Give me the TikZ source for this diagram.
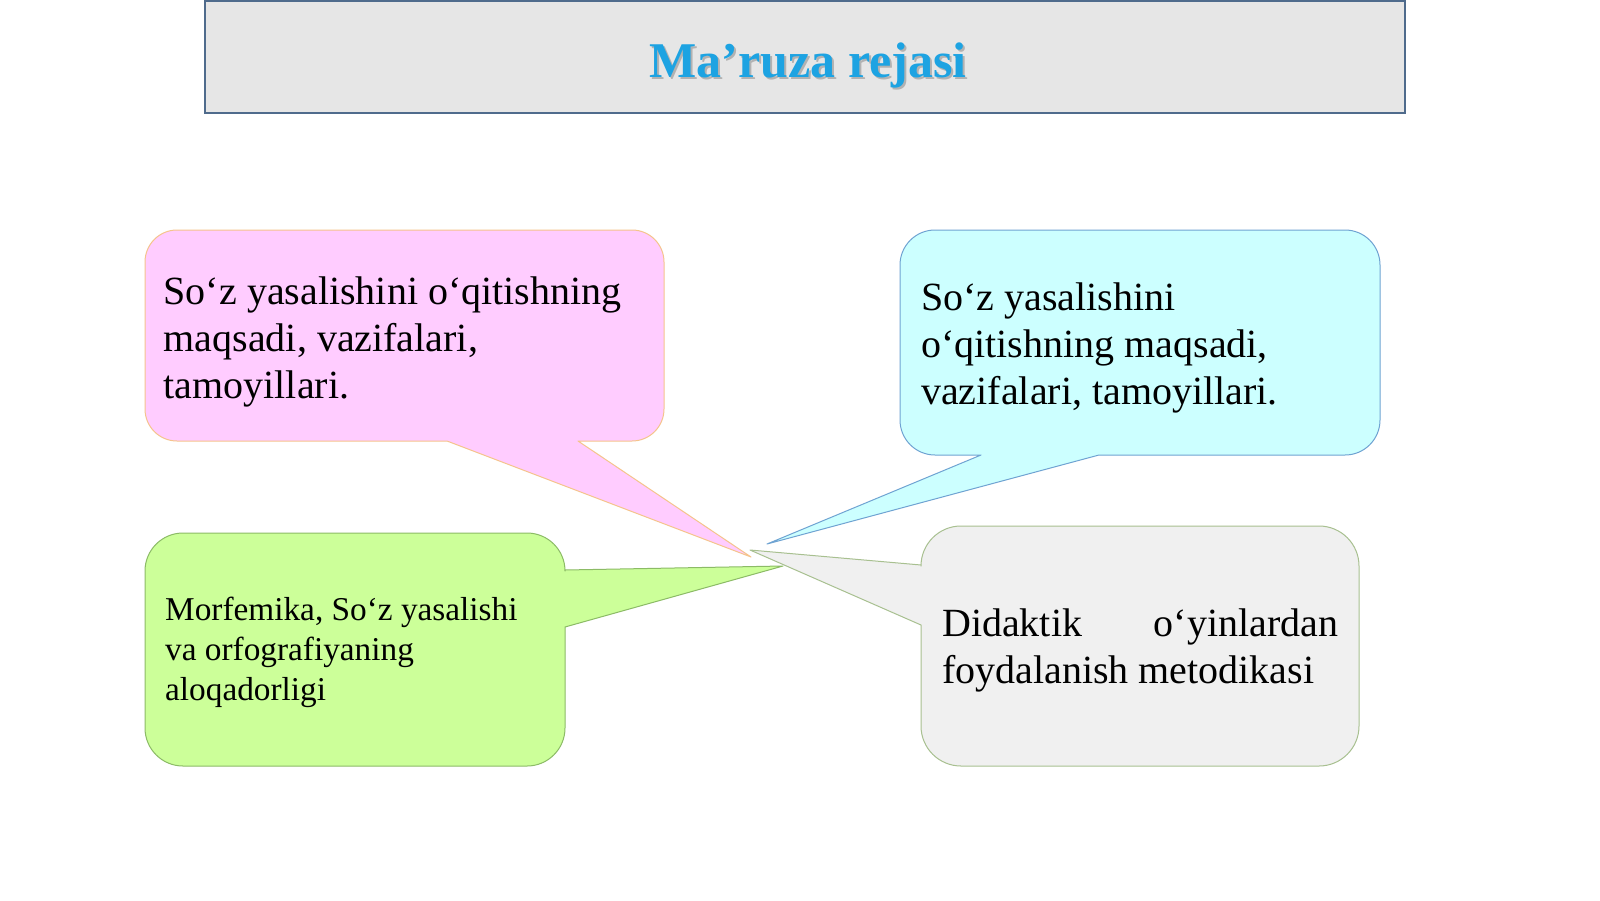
\documentclass[tikz,border=0pt]{standalone}
\usepackage{fontspec}
\setmainfont{Liberation Serif}
\definecolor{titlefill}{HTML}{E6E6E6}
\definecolor{titleline}{HTML}{4F6B8C}
\definecolor{titleblue}{HTML}{1DA3E2}
\definecolor{pinkfill}{HTML}{FFCCFF}
\definecolor{pinkline}{HTML}{F5C48C}
\definecolor{cyanfill}{HTML}{CCFFFF}
\definecolor{cyanline}{HTML}{6FA3D2}
\definecolor{greenfill}{HTML}{CCFF99}
\definecolor{greenline}{HTML}{8CBB66}
\definecolor{grayfill}{HTML}{F0F0F0}
\definecolor{grayline}{HTML}{A8C090}
\tikzset{
  callout/.style={line width=1pt, line join=round},
  bigtext/.style={anchor=base west, inner sep=0pt, font=\fontsize{40}{47}\selectfont, align=left},
  smalltext/.style={anchor=base west, inner sep=0pt, font=\fontsize{33.3}{40}\selectfont, align=left},
}
\begin{document}
\begin{tikzpicture}[x=1pt,y=-1pt]
\useasboundingbox (0,0) rectangle (1600,900);
\fill[white] (0,0) rectangle (1600,900);
% title
\draw[fill=titlefill, draw=titleline, line width=2pt] (205,1) rectangle (1405,113);
\node[anchor=base, inner sep=0pt, font=\fontsize{50}{60}\selectfont\bfseries, text=black!30] (titleshadow) at (810,79.5) {Ma’ruza rejasi};
\node[anchor=base, inner sep=0pt, font=\fontsize{50}{60}\selectfont\bfseries, text=titleblue] (title) at (808,77) {Ma’ruza rejasi};
% cyan callout
\draw[callout, fill=cyanfill, draw=cyanline]
  (935,230) -- (1345,230) arc[start angle=-90,end angle=0,radius=35]
  -- (1380,420) arc[start angle=0,end angle=90,radius=35]
  -- (1099,455) -- (767,544) -- (981,455)
  -- (935,455) arc[start angle=90,end angle=180,radius=35]
  -- (900,265) arc[start angle=180,end angle=270,radius=35] -- cycle;
% gray callout
\draw[callout, fill=grayfill, draw=grayline]
  (961,526) -- (1319,526) arc[start angle=-90,end angle=0,radius=40]
  -- (1359,726) arc[start angle=0,end angle=90,radius=40]
  -- (961,766) arc[start angle=90,end angle=180,radius=40]
  -- (921,625) -- (750,550) -- (921,565)
  -- (921,566) arc[start angle=180,end angle=270,radius=40] -- cycle;
% pink callout
\draw[callout, fill=pinkfill, draw=pinkline]
  (177,230) -- (632,230) arc[start angle=-90,end angle=0,radius=32]
  -- (664,409) arc[start angle=0,end angle=90,radius=32]
  -- (578,441) -- (751,557) -- (447,441)
  -- (177,441) arc[start angle=90,end angle=180,radius=32]
  -- (145,262) arc[start angle=180,end angle=270,radius=32] -- cycle;
% green callout
\draw[callout, fill=greenfill, draw=greenline]
  (183,533) -- (527,533) arc[start angle=-90,end angle=0,radius=38]
  -- (565,570) -- (783,566) -- (565,627)
  -- (565,728) arc[start angle=0,end angle=90,radius=38]
  -- (183,766) arc[start angle=90,end angle=180,radius=38]
  -- (145,571) arc[start angle=180,end angle=270,radius=38] -- cycle;
% texts (base anchor = baseline of the last line)
\node[bigtext] (pinktext) at (163.5,398) {So‘z yasalishini o‘qitishning\\maqsadi, vazifalari,\\tamoyillari.};
\node[bigtext] (cyantext) at (921,404) {So‘z yasalishini\\o‘qitishning maqsadi,\\vazifalari, tamoyillari.};
\node[smalltext] (greentext) at (165,700.5) {Morfemika, So‘z yasalishi\\va orfografiyaning\\aloqadorligi};
\node[anchor=base west, inner sep=0pt, font=\fontsize{40}{47}\selectfont, text width=396pt, align=justify] (graytext) at (942,636) {Didaktik \hfill o‘yinlardan\\foydalanish metodikasi};
\end{tikzpicture}
\end{document}
